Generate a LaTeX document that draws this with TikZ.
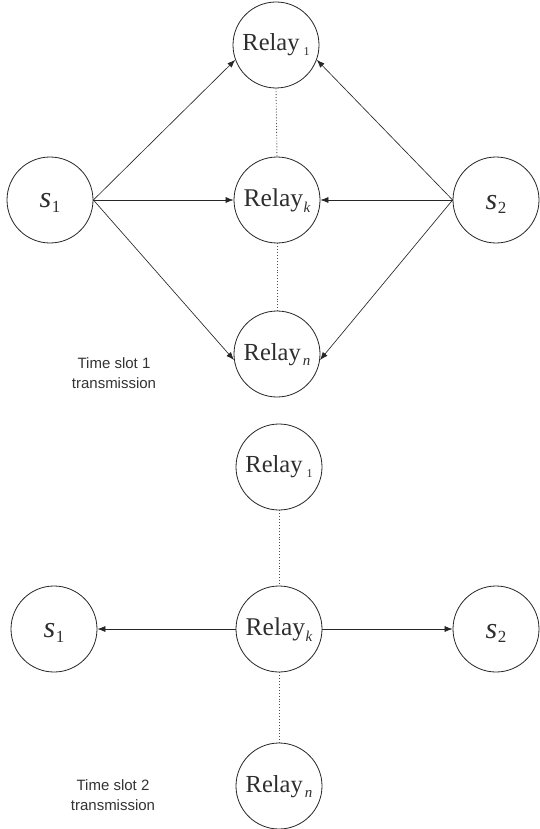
\documentclass[tikz,border=0pt]{standalone}
\usepackage{fontspec}
\setmainfont{Liberation Serif}
\newfontfamily\labelsans{Liberation Sans}
\usetikzlibrary{arrows.meta}

% source label: italic letter, subscript digit close to it
\newcommand\srcsym[3]{{\fontsize{30}{32}\selectfont\itshape #1}\kern0.5pt\raisebox{-#3}{\fontsize{17}{17}\selectfont #2}}
% relay label: font size, gap, drop, subscript size, subscript
\newcommand\relaytxt[5]{{\fontsize{#1}{#1}\selectfont Relay}\kern#2\raisebox{-#3}{\fontsize{#4}{#4}\selectfont #5}}

\begin{document}
\begin{tikzpicture}[x=1pt,y=-1pt,
  nodec/.style={circle, draw=black!85, line width=0.8pt, minimum size=86pt, inner sep=0pt, text=black!82, text depth=0pt},
  arr/.style={-{Latex[length=8pt,width=6pt]}, line width=0.65pt, draw=black!85},
  dots/.style={dotted, line width=0.9pt, draw=black!70},
  caption/.style={font=\labelsans\fontsize{15}{20}\selectfont, align=center, text=black!80}]

\useasboundingbox (0,0) rectangle (539,829);

% ---------- Time slot 1 ----------
\node[nodec, text height=15pt] (s1a) at (50,200) {\srcsym{s}{1}{5pt}};
\node[nodec, text height=18pt] (s2a) at (496,200) {\srcsym{s}{2}{4pt}};
\node[nodec, text height=11pt] (r1a) at (276,45) {\relaytxt{24.5}{4pt}{5pt}{12}{1}};
\node[nodec, text height=12pt] (rka) at (277,200) {\relaytxt{25.5}{0.5pt}{6pt}{15}{\itshape k}};
\node[nodec, text height=12pt] (rna) at (277,354) {\relaytxt{24.5}{2pt}{5pt}{15}{\itshape n}};

\draw[arr] (s1a.east) -- (r1a.200);
\draw[arr] (s1a.east) -- (rka.west);
\draw[arr] (s1a.east) -- (rna.188);
\draw[arr] (s2a.west) -- (r1a.340);
\draw[arr] (s2a.west) -- (rka.east);
\draw[arr] (s2a.west) -- (rna.352);
\draw[dots] (r1a.south) -- (rka.north);
\draw[dots] (rka.south) -- (rna.north);

\node[caption] (t1) at (114,373) {Time slot 1\\transmission};

% ---------- Time slot 2 ----------
\node[nodec, text height=16pt] (s1b) at (54,629) {\srcsym{s}{1}{5pt}};
\node[nodec, text height=18pt] (s2b) at (496,629) {\srcsym{s}{2}{4pt}};
\node[nodec, text height=11pt] (r1b) at (279,467) {\relaytxt{24.5}{4pt}{5pt}{12}{1}};
\node[nodec, text height=12pt] (rkb) at (279,629) {\relaytxt{25.5}{0.5pt}{6pt}{15}{\itshape k}};
\node[nodec, text height=12pt] (rnb) at (279,786) {\relaytxt{24.5}{2pt}{5pt}{15}{\itshape n}};

\draw[arr] (rkb.west) -- (s1b.east);
\draw[arr] (rkb.east) -- (s2b.west);
\draw[dots] (r1b.south) -- (rkb.north);
\draw[dots] (rkb.south) -- (rnb.north);

\node[caption] (t2) at (113,795) {Time slot 2\\transmission};

\end{tikzpicture}
\end{document}
